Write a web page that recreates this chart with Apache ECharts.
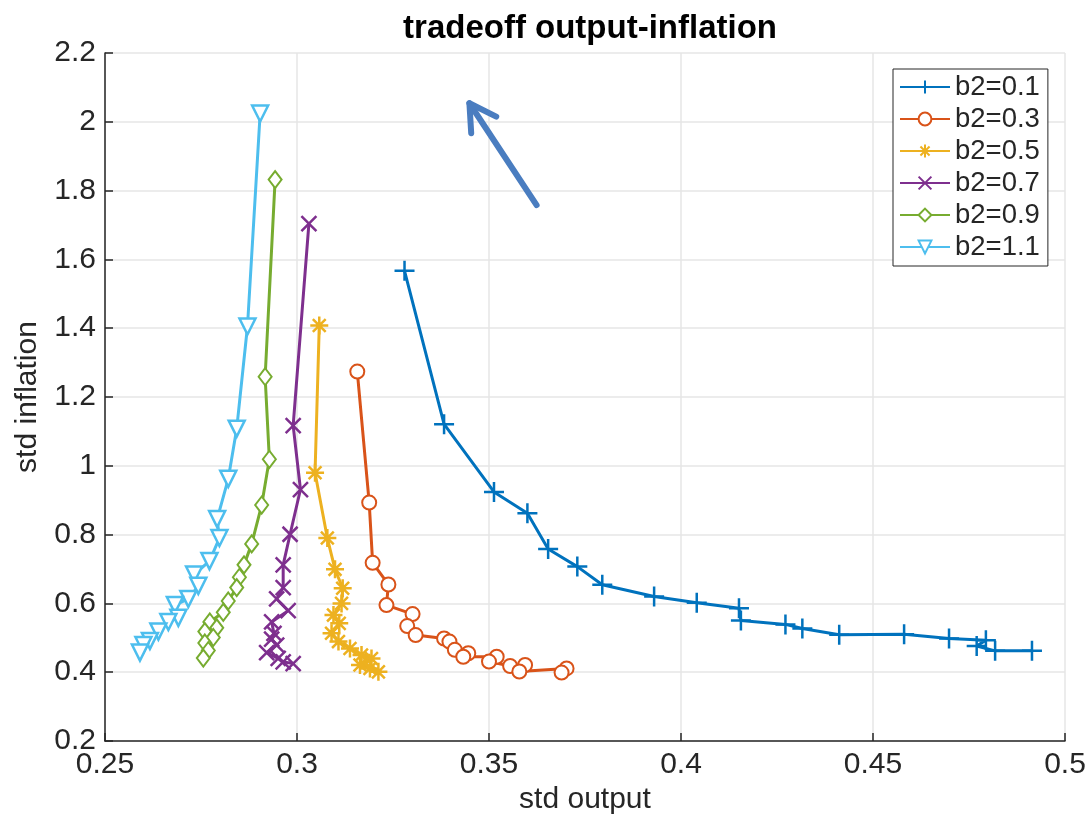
<!DOCTYPE html>
<html>
<head>
<meta charset="utf-8">
<script src="https://cdn.jsdelivr.net/npm/echarts@6/dist/echarts.min.js"></script>
<style>
  html, body { margin: 0; padding: 0; background: #fff; }
  #chart { width: 1091px; height: 821px; }
</style>
</head>
<body>
<div id="chart"></div>
<script>
// values
var names = ['b2=0.1', 'b2=0.3', 'b2=0.5', 'b2=0.7', 'b2=0.9', 'b2=1.1'];

var x01 = [0.328, 0.3383, 0.3513, 0.360, 0.3654, 0.373, 0.3795, 0.393, 0.4041, 0.4151, 0.4156, 0.4272, 0.4316, 0.4412, 0.4581, 0.4698, 0.4794, 0.477, 0.4818, 0.4914];
var y01 = [1.567, 1.121, 0.924, 0.862, 0.758, 0.707, 0.654, 0.620, 0.602, 0.586, 0.550, 0.539, 0.527, 0.509, 0.510, 0.498, 0.493, 0.476, 0.462, 0.462];

var x03 = [0.3157, 0.3188, 0.3197, 0.3238, 0.3233, 0.3301, 0.3287, 0.3309, 0.3383, 0.3397, 0.3411, 0.3446, 0.3433, 0.352, 0.35, 0.3555, 0.3594, 0.3579, 0.3702, 0.3689];
var y03 = [1.274, 0.893, 0.718, 0.655, 0.595, 0.569, 0.534, 0.508, 0.498, 0.489, 0.465, 0.455, 0.445, 0.445, 0.431, 0.418, 0.421, 0.402, 0.411, 0.399];

var x05 = [0.3058, 0.3047, 0.3079, 0.3099, 0.3119, 0.3116, 0.3095, 0.311, 0.309, 0.3108, 0.3138, 0.3168, 0.3194, 0.3164, 0.319, 0.3212];
var y05 = [1.408, 0.980, 0.790, 0.699, 0.644, 0.600, 0.566, 0.542, 0.513, 0.489, 0.469, 0.450, 0.440, 0.421, 0.411, 0.401];

var x07 = [0.3031, 0.299, 0.3009, 0.2982, 0.2964, 0.2964, 0.2947, 0.2977, 0.2934, 0.294, 0.2934, 0.2947, 0.2921, 0.2951, 0.2964, 0.299];
var y07 = [1.704, 1.117, 0.931, 0.801, 0.712, 0.646, 0.613, 0.579, 0.546, 0.513, 0.496, 0.479, 0.457, 0.440, 0.430, 0.425];

var x09 = [0.2943, 0.2917, 0.2928, 0.2908, 0.2882, 0.2862, 0.285, 0.2843, 0.2821, 0.2808, 0.2773, 0.2791, 0.276, 0.2782, 0.276, 0.2769, 0.2756];
var y09 = [1.832, 1.259, 1.019, 0.886, 0.773, 0.712, 0.676, 0.646, 0.607, 0.574, 0.546, 0.529, 0.518, 0.501, 0.485, 0.463, 0.441];

var x11 = [0.2904, 0.2871, 0.2843, 0.2821, 0.2792, 0.2798, 0.2772, 0.2732, 0.2743, 0.2717, 0.2682, 0.2691, 0.2665, 0.2639, 0.2617, 0.26, 0.2591];
var y11 = [2.024, 1.405, 1.108, 0.962, 0.845, 0.790, 0.723, 0.684, 0.651, 0.613, 0.595, 0.558, 0.546, 0.518, 0.491, 0.479, 0.457];

// annotation arrow (data coords)
var arrowFrom = [0.3624, 1.758];
var arrowTo = [0.3449, 2.054];

var colors = ['#0072BD', '#D95319', '#EDB120', '#7E2F8E', '#77AC30', '#4DBEEE'];
var FONT = 'Liberation Sans';
var DARK = '#262626';

function pairs(xs, ys) {
  return xs.map(function (v, i) { return [v, ys[i]]; });
}

var symbols = [
  { symbol: 'path://M0,10L20,10M10,0L10,20', size: 20 },
  { symbol: 'emptyCircle', size: 14 },
  { symbol: 'path://M0,8L16,8M8,0L8,16M2.3,2.3L13.7,13.7M13.7,2.3L2.3,13.7', size: 18 },
  { symbol: 'path://M0,0L14,14M14,0L0,14', size: 15 },
  { symbol: 'emptyDiamond', size: [13, 17] },
  { symbol: 'path://M0,0L16,0L8,14Z', size: 16 }
];
var sets = [[x01, y01], [x03, y03], [x05, y05], [x07, y07], [x09, y09], [x11, y11]];

var series = sets.map(function (s, i) {
  var hollowFill = (i === 5) ? '#fff' : colors[i];
  return {
    name: names[i],
    type: 'line',
    data: pairs(s[0], s[1]),
    symbol: symbols[i].symbol,
    symbolSize: symbols[i].size,
    showAllSymbol: true,
    lineStyle: { color: colors[i], width: 3 },
    itemStyle: { color: hollowFill, borderColor: colors[i], borderWidth: 2.5 },
    z: 3
  };
});

var chart = echarts.init(document.getElementById('chart'));
var option = {
  backgroundColor: '#fff',
  animation: false,
  title: {
    text: 'tradeoff output-inflation',
    left: 585,
    textAlign: 'center',
    top: 7,
    textStyle: { fontFamily: FONT, fontSize: 33, fontWeight: 'bold', color: '#000' }
  },
  grid: { left: 105, right: 26, top: 53, bottom: 80 },
  legend: {
    orient: 'vertical',
    left: 893,
    top: 69,
    data: names,
    itemWidth: 50,
    itemHeight: 16,
    itemGap: 4,
    padding: [4, 8, 5, 6],
    borderColor: DARK,
    borderWidth: 1,
    backgroundColor: '#fff',
    textStyle: { fontFamily: FONT, fontSize: 27.5, color: DARK }
  },
  xAxis: {
    type: 'value',
    min: 0.25,
    max: 0.5,
    interval: 0.05,
    name: 'std output',
    nameLocation: 'middle',
    nameGap: 42,
    nameTextStyle: { fontFamily: FONT, fontSize: 30, color: DARK },
    axisLine: { show: true, onZero: false, lineStyle: { color: DARK, width: 1.5 } },
    axisTick: { show: true, inside: true, length: 8, lineStyle: { color: DARK, width: 1.5 } },
    axisLabel: {
      fontFamily: FONT, fontSize: 30, color: DARK, margin: 9,
      formatter: function (v) { return String(+v.toFixed(2)); }
    },
    splitLine: { show: true, lineStyle: { color: '#e6e6e6', width: 1.5 } }
  },
  yAxis: {
    type: 'value',
    min: 0.2,
    max: 2.2,
    interval: 0.2,
    name: 'std inflation',
    nameLocation: 'middle',
    nameGap: 62,
    nameTextStyle: { fontFamily: FONT, fontSize: 30, color: DARK },
    axisLine: { show: true, onZero: false, lineStyle: { color: DARK, width: 1.5 } },
    axisTick: { show: true, inside: true, length: 8, lineStyle: { color: DARK, width: 1.5 } },
    axisLabel: {
      fontFamily: FONT, fontSize: 30, color: DARK, margin: 9,
      formatter: function (v) { return String(+v.toFixed(1)); }
    },
    splitLine: { show: true, lineStyle: { color: '#e6e6e6', width: 1.5 } }
  },
  series: series
};
chart.setOption(option);

// arrow drawn through the chart's own scales
function drawArrow() {
  var p0 = chart.convertToPixel({ gridIndex: 0 }, arrowFrom);
  var p1 = chart.convertToPixel({ gridIndex: 0 }, arrowTo);
  var ang = Math.atan2(p0[1] - p1[1], p0[0] - p1[0]);
  var L = 30, spread = Math.PI / 6;
  var a1 = [p1[0] + L * Math.cos(ang + spread), p1[1] + L * Math.sin(ang + spread)];
  var a2 = [p1[0] + L * Math.cos(ang - spread), p1[1] + L * Math.sin(ang - spread)];
  var st = { stroke: '#4a7dc0', lineWidth: 6, lineCap: 'round', lineJoin: 'round', fill: null };
  chart.setOption({
    graphic: [
      { type: 'polyline', shape: { points: [p0, p1] }, style: st, z: 10 },
      { type: 'polyline', shape: { points: [a1, p1, a2] }, style: st, z: 10 }
    ]
  });
}
drawArrow();
</script>
</body>
</html>
